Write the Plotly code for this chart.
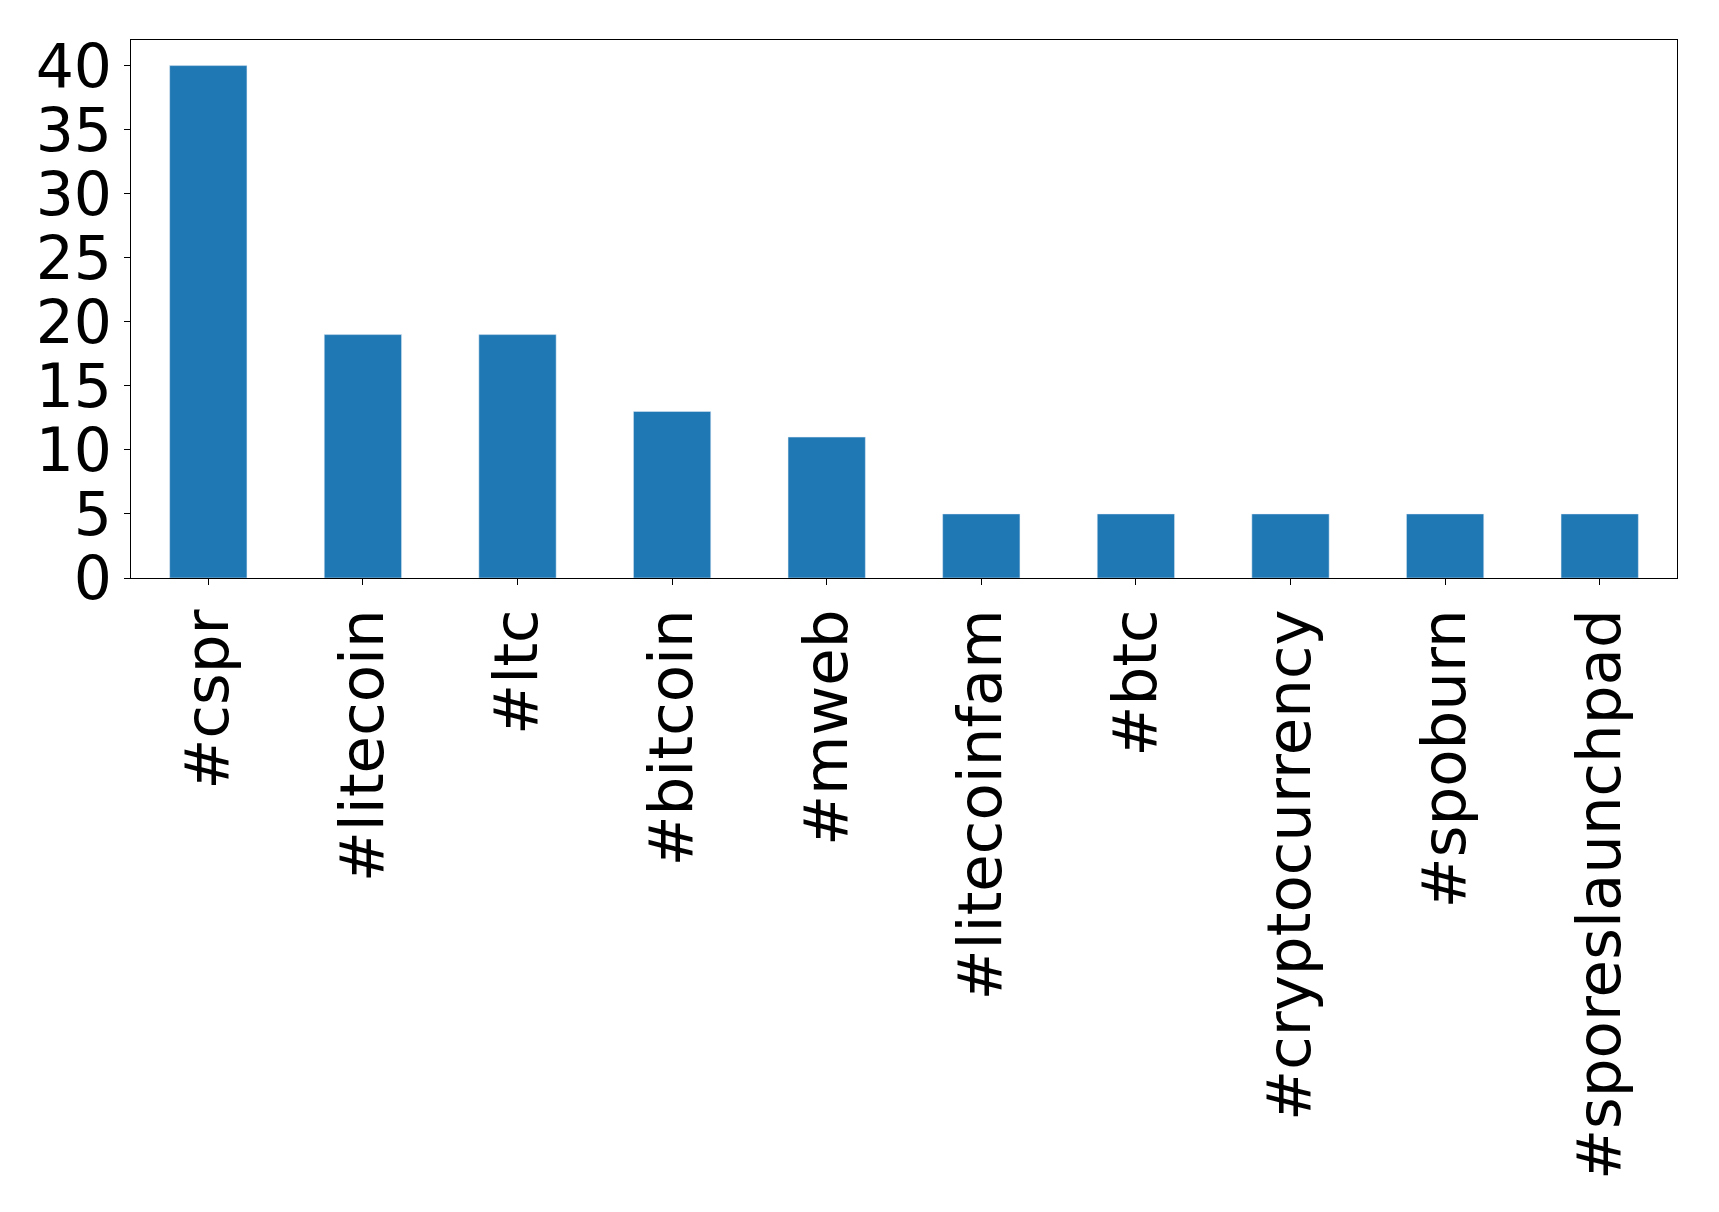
import plotly.graph_objects as go

categories = ["#cspr", "#litecoin", "#ltc", "#bitcoin", "#mweb", "#litecoinfam", "#btc", "#cryptocurrency", "#spoburn", "#sporeslaunchpad"]
values = [40, 19, 19, 13, 11, 5, 5, 5, 5, 5]

fig = go.Figure(go.Bar(x=categories, y=values, marker_color="#1f77b4", width=0.5))
fig.update_layout(
    width=1719, height=1212, plot_bgcolor="white", paper_bgcolor="white",
    margin=dict(l=123, r=50, t=32, b=642),
    font=dict(family="DejaVu Sans", size=60, color="black"),
    showlegend=False,
)
fig.update_xaxes(range=[-0.5, 9.5], tickangle=-90, showline=True, linecolor="black", mirror=True,
                 ticks="outside", ticklen=6, tickcolor="black", showgrid=False,
                 tickfont=dict(size=61))
fig.update_yaxes(range=[0, 42], tickvals=[0,5,10,15,20,25,30,35,40], showline=True, linecolor="black", mirror=True,
                 ticks="outside", ticklen=6, tickcolor="black", showgrid=False, zeroline=False)
fig.write_html("out.html")
